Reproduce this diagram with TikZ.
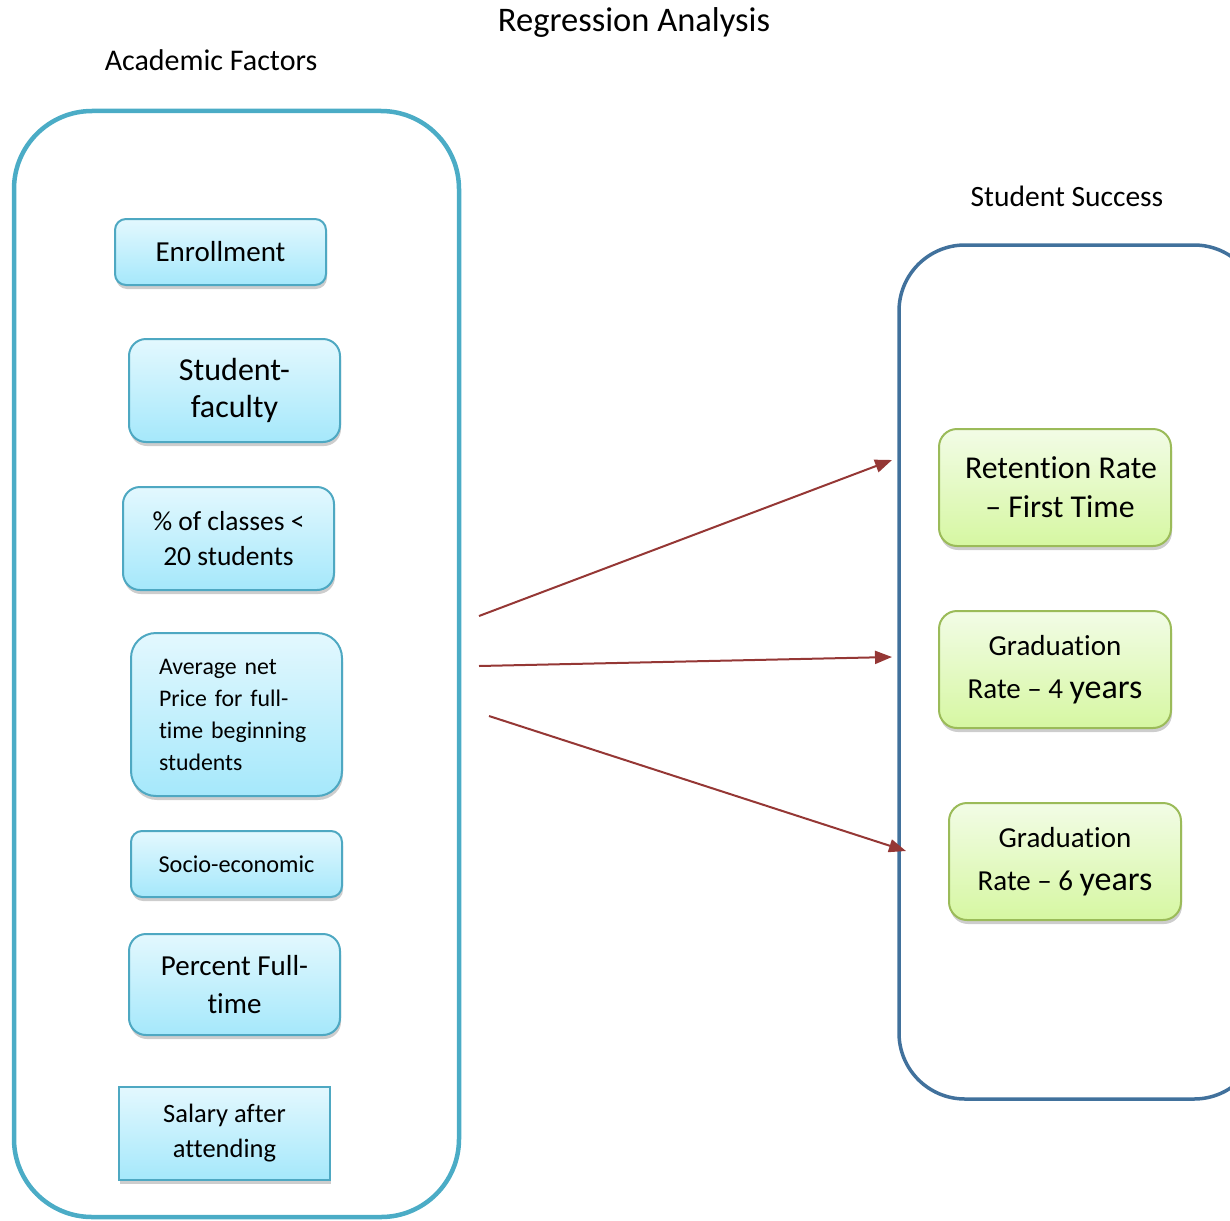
\documentclass[tikz,border=0pt]{standalone}
\usepackage{fontspec}
\setmainfont{Carlito}[Ligatures=NoCommon]
\usetikzlibrary{shadows,arrows.meta}

\definecolor{frameA}{HTML}{4BACC6}
\definecolor{frameB}{HTML}{41719C}
\definecolor{factTop}{HTML}{E3F8FE}
\definecolor{factBot}{HTML}{A5E8FB}
\definecolor{factLine}{HTML}{4EA8C2}
\definecolor{succTop}{HTML}{F2FCE6}
\definecolor{succBot}{HTML}{D6F7A2}
\definecolor{succLine}{HTML}{9BBB59}
\definecolor{arrowRed}{HTML}{953735}

\newcommand{\fs}[2]{\fontsize{#1}{#2}\selectfont}

\tikzset{
  x=1pt, y=-1pt,
  softshadow/.style={drop shadow={shadow xshift=1pt, shadow yshift=-4pt, opacity=0.28, fill=black!70}},
  factor/.style={draw=factLine, line width=2pt, top color=factTop, bottom color=factBot,
    softshadow, align=center, inner sep=0pt, minimum width=211pt},
  outcome/.style={draw=succLine, line width=2pt, top color=succTop, bottom color=succBot,
    softshadow, align=center, inner sep=0pt, minimum width=232pt, minimum height=117pt},
  groupframe/.style={draw, rounded corners=#1, inner sep=0pt},
  label/.style={inner sep=0pt},
  link/.style={draw=arrowRed, line width=2pt, -{Triangle[length=17pt,width=13pt]}}
}

\begin{document}
\begin{tikzpicture}
\useasboundingbox (0,0) rectangle (1230,1220);
\clip (0,0) rectangle (1230,1220);

% headings
\node[label, font=\fs{34.5}{40}] (title) at (634,22) {Regression Analysis};
\node[label, font=\fs{30}{36}] (acadhead) at (211,60) {Academic Factors};
\node[label, font=\fs{29.5}{36}] (succhead) at (1067,196) {Student Success};

% group frames
\node[groupframe=78pt, draw=frameA, line width=4.5pt, minimum width=445pt, minimum height=1106pt]
  (acadframe) at (236.5,664) {};
\node[groupframe=66pt, draw=frameB, line width=3.5pt, minimum width=361pt, minimum height=854pt]
  (succframe) at (1079.5,672) {};

% academic factors
\node[factor, rounded corners=11pt, minimum height=66pt, font=\fs{29}{36}] (enroll) at (220.5,252)
  {Enrollment};
\node[factor, rounded corners=17pt, minimum height=103pt, font=\fs{32}{37}] (ratio) at (234.5,390.5)
  {Student-\\faculty};
\node[factor, rounded corners=17pt, minimum height=103pt, font=\fs{27.5}{35}] (classes) at (228.5,538.5)
  {\% of classes <\\20 students};
\node[factor, rounded corners=25pt, minimum height=163pt, text width=155pt, align=left, font=\fs{23.8}{32}]
  (price) at (236.5,714.5)
  {Average net\\Price for full-\\time beginning\\students};
\node[factor, rounded corners=11pt, minimum height=66pt, font=\fs{24.3}{30}] (socio) at (236.5,864)
  {Socio-economic};
\node[factor, rounded corners=17pt, minimum height=101pt, font=\fs{29}{38}] (fulltime) at (234.5,984.5)
  {Percent Full-\\time};
\node[factor, rounded corners=0pt, minimum height=93pt, font=\fs{26.5}{35}] (salary) at (224.5,1133.5)
  {Salary after\\attending};

% student success outcomes
\node[outcome, rounded corners=18pt, font=\fs{31.8}{39}] (retention) at (1055,487.5)
  {\hspace*{12pt}Retention Rate\\\hspace*{10pt}-- First Time};
\node[outcome, rounded corners=18pt, font=\fs{29}{43}] (grad4) at (1055,669.5)
  {Graduation\\Rate -- 4 {\fs{34}{43}years}};
\node[outcome, rounded corners=18pt, font=\fs{29}{43}] (grad6) at (1065,861.5)
  {Graduation\\Rate -- 6 {\fs{34}{43}years}};

% regression links
\coordinate (l1s) at (479,616);  \coordinate (l1e) at (892,460);
\coordinate (l2s) at (479,666);  \coordinate (l2e) at (892,657);
\coordinate (l3s) at (489,716);  \coordinate (l3e) at (906,851);
\draw[link] (l1s) -- (l1e);
\draw[link] (l2s) -- (l2e);
\draw[link] (l3s) -- (l3e);
\end{tikzpicture}
\end{document}
